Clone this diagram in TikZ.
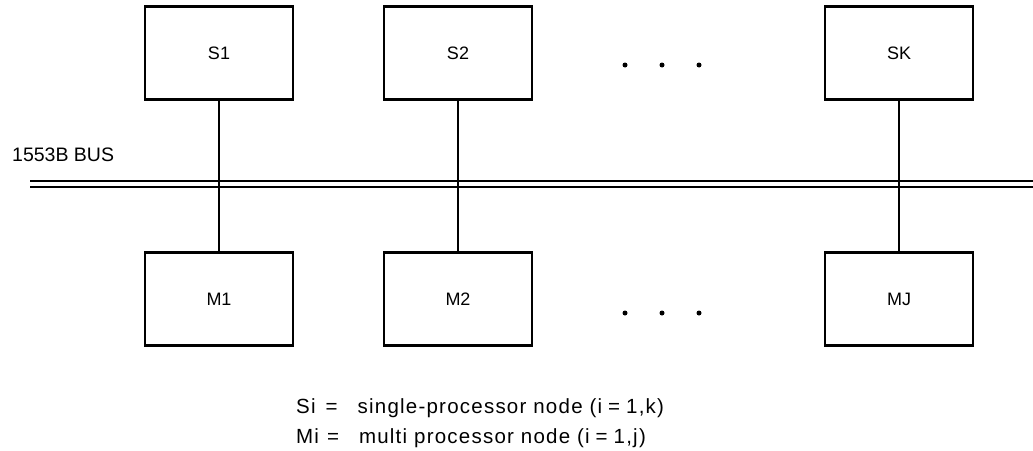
\documentclass[tikz,border=0pt]{standalone}
\usepackage{fontspec}
\setmainfont{Liberation Sans}
\newfontfamily\keyfont[LetterSpace=6]{Liberation Sans}
\usetikzlibrary{positioning}
\tikzset{
  unit/.style={draw,line width=2.2pt,minimum width=148pt,minimum height=93pt,
    font=\fontsize{18}{20}\selectfont,inner sep=0pt},
  bus/.style={double distance=3.5pt,line width=2pt},
  drop/.style={line width=2.2pt},
  note/.style={font=\keyfont\fontsize{20.5}{30}\selectfont,align=left,anchor=base west,inner sep=0pt},
}
\begin{document}
\begin{tikzpicture}[x=1pt,y=-1pt]
  \useasboundingbox (0,0) rectangle (1033,450);
  % nodes on the bus
  \node[unit] (s1) at (219,53) {S1};
  \node[unit] (s2) at (458,53) {S2};
  \node[unit] (sk) at (899,53) {SK};
  \node[unit] (m1) at (219,299) {M1};
  \node[unit] (m2) at (458,299) {M2};
  \node[unit] (mj) at (899,299) {MJ};
  % the bus
  \coordinate (busl) at (30,184);
  \coordinate (busr) at (1033,184);
  \draw[bus] (busl) -- (busr);
  \node[font=\fontsize{19.5}{21}\selectfont,anchor=west,inner sep=0pt] (buslabel) at (12,155) {1553B BUS};
  \foreach \a/\b in {s1/m1,s2/m2,sk/mj}
    \draw[drop] (\a.south) -- (\b.north);
  % dots
  \foreach \x in {625,662,699} {
    \fill (\x,65) circle (2.5);
    \fill (\x,313) circle (2.5);
  }
  % key (baseline of last line)
  \node[note] (key) at (296,443) {Si\hspace{10pt}=\hspace{20pt}single-processor node (i\hspace{6pt}=\hspace{6pt}1,k)\\
    Mi\hspace{8pt}=\hspace{20pt}multi processor node (i\hspace{6pt}=\hspace{6pt}1,j)};
\end{tikzpicture}
\end{document}
